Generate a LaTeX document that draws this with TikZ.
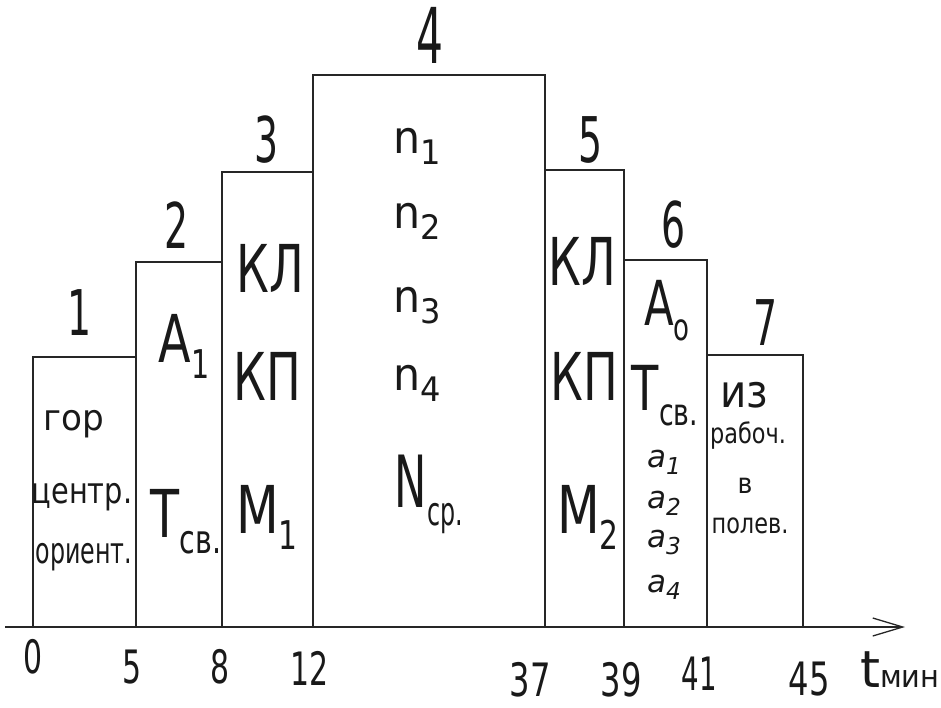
\documentclass[tikz,border=0pt]{standalone}
\usepackage{fontspec}
\setmainfont{DejaVu Sans}
\usetikzlibrary{arrows.meta}
\newcommand{\dn}[2][0.6]{\raisebox{-0.25em}{\scalebox{#1}{#2}}}
\newcommand{\hw}[2][0.7]{\scalebox{#1}[1]{#2}}
\begin{document}
\begin{tikzpicture}[x=1pt,y=-1pt,
  bar/.style={line width=1.1pt, draw=black!85},
  lbl/.style={inner sep=0pt, anchor=base, text=black!90},
  num/.style={lbl, font=\fontsize{63}{63}\selectfont},
  big/.style={lbl, font=\fontsize{66}{66}\selectfont},
  nn/.style={lbl, font=\fontsize{45}{45}\selectfont},
  aa/.style={lbl, font=\fontsize{31}{31}\selectfont\itshape},
  smallA/.style={lbl, font=\fontsize{36}{36}\selectfont},
  smallB/.style={lbl, font=\fontsize{28}{28}\selectfont},
  tick/.style={lbl, font=\fontsize{46}{46}\selectfont}]
\useasboundingbox (0,0) rectangle (941,707);
\fill[white] (0,0) rectangle (941,707);
% bars
\draw[bar] (33,627) rectangle (136,357);
\draw[bar] (136,627) rectangle (222,262);
\draw[bar] (222,627) rectangle (313,172);
\draw[bar] (313,627) rectangle (545,75);
\draw[bar] (545,627) rectangle (624,170);
\draw[bar] (624,627) rectangle (707,260);
\draw[bar] (707,627) rectangle (803,355);
% axis
\coordinate (ax0) at (5,627);
\coordinate (ax1) at (905,627);
\draw[line width=1.1pt, draw=black!85, -{Straight Barb[length=30pt,width=18pt,line width=1.3pt]}] (ax0) -- (ax1);
% bar numbers
\node[num] (b1) at (80,335) {\hw[0.6]{1}};
\node[num] (b2) at (177,248) {\hw[0.6]{2}};
\node[num] (b3) at (267,162) {\hw[0.6]{3}};
\node[num, font=\fontsize{77}{77}\selectfont] (b4) at (430,63) {\hw[0.55]{4}};
\node[num] (b5) at (591,162) {\hw[0.6]{5}};
\node[num] (b6) at (674,247) {\hw[0.6]{6}};
\node[num] (b7) at (766,345) {\hw[0.6]{7}};
% bar 1
\node[smallA] (g1) at (74,430) {\hw[0.95]{гор}};
\node[smallA] (g2) at (82,503) {\hw[0.8]{центр.}};
\node[smallA] (g3) at (84,563) {\hw[0.66]{ориент.}};
% bar 2
\node[big] (a1) at (184,362) {\hw[0.72]{A\dn{1}}};
\node[big] (tsv) at (186,537) {\hw[0.72]{T\dn{св.}}};
% bar 3
\node[big] (kl1) at (270,292) {\hw[0.7]{КЛ}};
\node[big] (kp1) at (267,400) {\hw[0.7]{КП}};
\node[big] (m1) at (267,533) {\hw[0.75]{M\dn{1}}};
% bar 4
\node[nn] (p1) at (417,153) {\hw[0.95]{n\dn[0.75]{1}}};
\node[nn] (p2) at (417,228) {\hw[0.95]{n\dn[0.75]{2}}};
\node[nn] (p3) at (417,312) {\hw[0.95]{n\dn[0.75]{3}}};
\node[nn] (p4) at (417,390) {\hw[0.95]{n\dn[0.75]{4}}};
\node[big, font=\fontsize{72}{72}\selectfont] (ncp) at (429,507) {\hw[0.6]{N\dn[0.55]{ср.}}};
% bar 5
\node[big] (kl2) at (582,285) {\hw[0.7]{КЛ}};
\node[big] (kp2) at (584,400) {\hw[0.7]{КП}};
\node[big] (m2) at (588,533) {\hw[0.75]{M\dn{2}}};
% bar 6
\node[big, font=\fontsize{62}{62}\selectfont] (ao) at (667,325) {\hw[0.7]{A\dn{o}}};
\node[big, font=\fontsize{62}{62}\selectfont] (tsv2) at (665,410) {\hw[0.72]{T\dn{св.}}};
\node[aa] (aa1) at (664,467) {a\dn[0.75]{1}};
\node[aa] (aa2) at (664,508) {a\dn[0.75]{2}};
\node[aa] (aa3) at (664,547) {a\dn[0.75]{3}};
\node[aa] (aa4) at (664,592) {a\dn[0.75]{4}};
% bar 7
\node[smallA, font=\fontsize{45}{45}\selectfont] (w1) at (744,407) {\hw[0.9]{из}};
\node[smallB] (w2) at (748,443) {\hw[0.8]{рабоч.}};
\node[smallB] (w3) at (745,493) {\hw[0.9]{в}};
\node[smallB] (w4) at (750,533) {\hw[0.8]{полев.}};
% ticks
\node[tick] (t0) at (33,673) {\hw[0.65]{0}};
\node[tick] (t5) at (132,683) {\hw[0.65]{5}};
\node[tick] (t8) at (220,683) {\hw[0.65]{8}};
\node[tick] (t12) at (310,685) {\hw[0.65]{12}};
\node[tick] (t37) at (530,696) {\hw[0.7]{37}};
\node[tick] (t39) at (621,696) {\hw[0.7]{39}};
\node[tick] (t41) at (699,690) {\hw[0.6]{41}};
\node[tick] (t45) at (809,695) {\hw[0.7]{45}};
\node[lbl, anchor=base west] (tm) at (860,687) {{\fontsize{51}{51}\selectfont t}{\fontsize{31}{31}\selectfont\hw[0.93]{мин}}};
\end{tikzpicture}
\end{document}
